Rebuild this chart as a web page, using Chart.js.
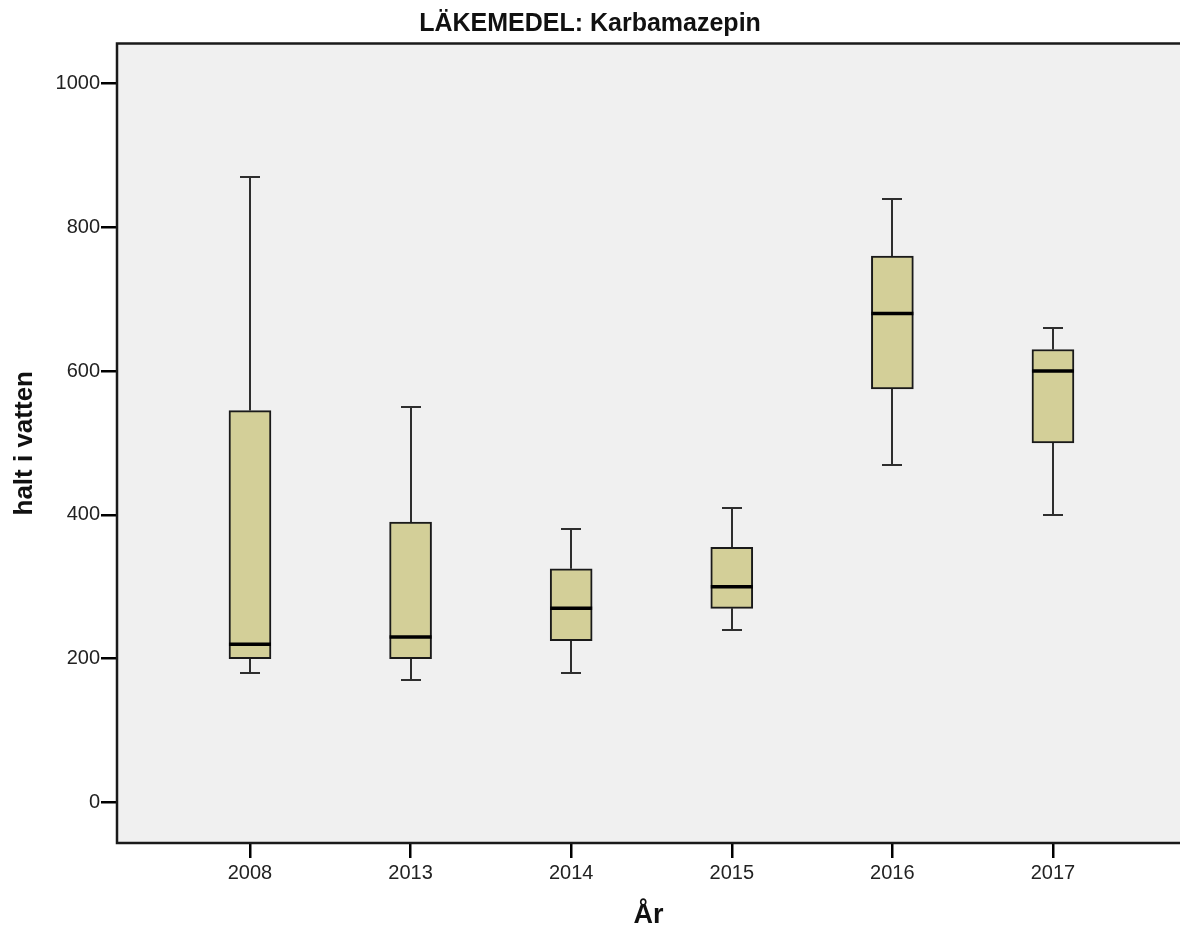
<!DOCTYPE html>
<html>
<head>
<meta charset="utf-8">
<title>LÄKEMEDEL: Karbamazepin</title>
<script src="https://cdn.jsdelivr.net/npm/chart.js@4/dist/chart.umd.min.js"></script>
<style>
  html, body { margin: 0; padding: 0; background: #ffffff; overflow: hidden; }
  #wrap { width: 1180px; height: 934px; }
</style>
</head>
<body>
<div id="wrap"><canvas id="chart" width="1180" height="934"></canvas></div>
<script>
// Sampling years and the five-number summary for each year
const years        = ['2008', '2013', '2014', '2015', '2016', '2017'];
const whiskerLow   = [180, 170, 180, 240, 470, 400];
const quartile1    = [200, 200, 225, 270, 575, 500];
const medians      = [220, 230, 270, 300, 680, 600];
const quartile3    = [545, 390, 325, 355, 760, 630];
const whiskerHigh  = [870, 550, 380, 410, 840, 660];
const yTickValues  = [0, 200, 400, 600, 800, 1000];

const FONT = "'Liberation Sans', Arial, Helvetica, sans-serif";
const BOX_WIDTH = 42;
const CAP_WIDTH = 20;

// Plot background and frame (left, top, bottom edges)
const framePlugin = {
  id: 'plotFrame',
  beforeDraw(chart) {
    const { ctx, chartArea: a } = chart;
    ctx.save();
    ctx.fillStyle = '#f0f0f0';
    ctx.fillRect(a.left, a.top, a.right - a.left, a.bottom - a.top);
    ctx.restore();
  },
  afterDraw(chart) {
    const { ctx, chartArea: a } = chart;
    ctx.save();
    ctx.strokeStyle = '#1a1a1a';
    ctx.lineWidth = 2.5;
    ctx.beginPath();
    ctx.moveTo(a.right + 2, a.top);
    ctx.lineTo(a.left, a.top);
    ctx.lineTo(a.left, a.bottom);
    ctx.lineTo(a.right + 2, a.bottom);
    ctx.stroke();
    ctx.restore();
  }
};

// Whiskers with end caps, and the median line across each box
const boxPartsPlugin = {
  id: 'boxParts',
  beforeDatasetsDraw(chart) {
    const { ctx, scales: { x, y } } = chart;
    ctx.save();
    ctx.strokeStyle = '#2e2e2e';
    ctx.lineWidth = 2;
    years.forEach((_, i) => {
      const cx = Math.round(x.getPixelForValue(i));
      const segs = [[whiskerLow[i], quartile1[i]], [quartile3[i], whiskerHigh[i]]];
      segs.forEach(([from, to]) => {
        ctx.beginPath();
        ctx.moveTo(cx, y.getPixelForValue(from));
        ctx.lineTo(cx, y.getPixelForValue(to));
        ctx.stroke();
      });
      [whiskerLow[i], whiskerHigh[i]].forEach(v => {
        const py = Math.round(y.getPixelForValue(v));
        ctx.beginPath();
        ctx.moveTo(cx - CAP_WIDTH / 2, py);
        ctx.lineTo(cx + CAP_WIDTH / 2, py);
        ctx.stroke();
      });
    });
    ctx.restore();
  },
  afterDatasetsDraw(chart) {
    const { ctx, scales: { x, y } } = chart;
    ctx.save();
    ctx.strokeStyle = '#000000';
    ctx.lineWidth = 3.5;
    years.forEach((_, i) => {
      const cx = x.getPixelForValue(i);
      const py = y.getPixelForValue(medians[i]);
      ctx.beginPath();
      ctx.moveTo(cx - BOX_WIDTH / 2, py);
      ctx.lineTo(cx + BOX_WIDTH / 2, py);
      ctx.stroke();
    });
    ctx.restore();
  }
};

new Chart(document.getElementById('chart'), {
  type: 'bar',
  data: {
    datasets: [{
      label: 'halt i vatten',
      data: years.map((_, i) => ({ x: i, y: [quartile1[i], quartile3[i]] })),
      backgroundColor: '#d3cf98',
      borderColor: '#1a1a1a',
      borderWidth: 2,
      borderSkipped: false,
      barThickness: BOX_WIDTH
    }]
  },
  options: {
    responsive: false,
    animation: false,
    events: [],
    layout: { padding: 0 },
    plugins: {
      legend: { display: false },
      tooltip: { enabled: false },
      title: {
        display: true,
        text: 'LÄKEMEDEL: Karbamazepin',
        color: '#111111',
        font: { family: FONT, size: 25, weight: 'bold' },
        padding: { top: 9, bottom: 4.5 }
      }
    },
    scales: {
      x: {
        type: 'linear',
        offset: false,
        min: -0.828,
        max: 5.791,
        afterBuildTicks: s => { s.ticks = years.map((_, i) => ({ value: i })); },
        afterFit: s => { s.height = 91; },
        border: { display: false },
        grid: {
          offset: false,
          drawOnChartArea: false,
          drawTicks: true,
          tickLength: 15,
          color: '#000000',
          lineWidth: 2.5
        },
        ticks: {
          callback: v => years[v],
          color: '#222222',
          font: { family: FONT, size: 20 },
          padding: 3,
          maxRotation: 0
        },
        title: {
          display: true,
          text: 'År',
          color: '#111111',
          font: { family: FONT, size: 27, weight: 'bold' },
          padding: { top: 0, bottom: 2 }
        }
      },
      y: {
        type: 'linear',
        min: -56.4,
        max: 1055.6,
        afterBuildTicks: s => { s.ticks = yTickValues.map(v => ({ value: v })); },
        afterFit: s => { s.width = 117; },
        border: { display: false },
        grid: {
          drawOnChartArea: false,
          drawTicks: true,
          tickLength: 16,
          color: '#000000',
          lineWidth: 2.5
        },
        ticks: {
          callback: v => String(v),
          color: '#222222',
          font: { family: FONT, size: 20 },
          padding: 1
        },
        title: {
          display: true,
          text: 'halt i vatten',
          color: '#111111',
          font: { family: FONT, size: 26, weight: 'bold' },
          padding: { top: 9, bottom: 0 }
        }
      }
    }
  },
  plugins: [framePlugin, boxPartsPlugin]
});
</script>
</body>
</html>
